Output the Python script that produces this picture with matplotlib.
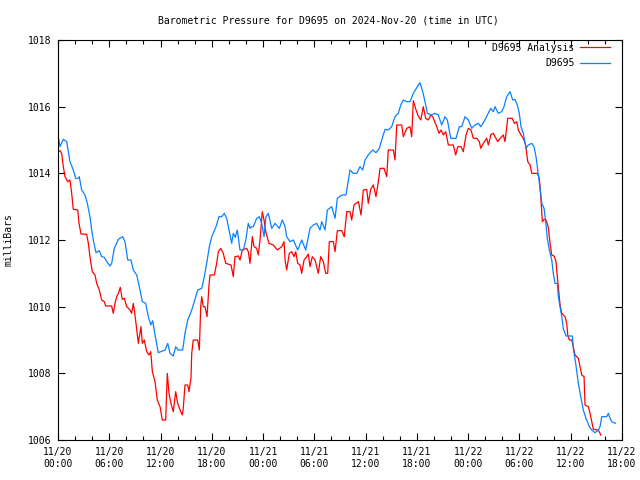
import matplotlib
matplotlib.use("Agg")
import matplotlib.pyplot as plt
from matplotlib.ticker import MultipleLocator

# hours since 2024-11-20 00:00 UTC, pressure in mbar
obs_hours = [
    0.04, 0.23, 0.62, 1.02, 1.21, 1.40, 1.79, 2.07, 2.38, 2.49, 2.77, 3.16, 3.43, 3.74, 3.94, 4.13,
    4.45, 4.83, 5.11, 5.42, 5.70, 6.09, 6.28, 6.59, 7.06, 7.57, 7.84, 8.16, 8.54, 8.81, 9.21, 9.60,
    9.87, 10.26, 10.57, 10.85, 11.08, 11.35, 11.74, 12.52, 12.84, 13.11, 13.49, 13.77, 14.08, 14.59,
    14.86, 15.18, 15.65, 15.95, 16.35, 16.82, 17.12, 17.40, 17.71, 17.99, 18.49, 18.84, 19.16, 19.46,
    19.74, 20.01, 20.33, 20.51, 20.75, 20.98, 21.30, 21.69, 21.97, 22.27, 22.47, 22.67, 22.86, 23.25,
    23.56, 23.84, 24.11, 24.34, 24.61, 25.01, 25.40, 25.90, 26.25, 26.57, 26.76, 27.15, 27.54, 28.05,
    28.52, 28.99, 29.49, 29.88, 30.27, 30.66, 30.86, 31.25, 31.52, 32.03, 32.42, 32.69, 33.20, 33.70,
    34.17, 34.56, 34.96, 35.34, 35.66, 35.93, 36.31, 36.83, 37.21, 37.60, 38.00, 38.27, 38.65, 39.05,
    39.44, 39.82, 40.11, 40.41, 40.81, 41.19, 41.58, 42.05, 42.36, 42.68, 42.95, 43.22, 43.73, 44.12,
    44.50, 44.90, 45.29, 45.56, 45.96, 46.58, 46.96, 47.24, 47.63, 48.02, 48.41, 48.80, 49.19, 49.47,
    49.85, 50.24, 50.64, 50.94, 51.14, 51.53, 51.92, 52.19, 52.51, 52.90, 53.21, 53.48, 53.75, 53.98,
    54.18, 54.45, 54.77, 55.04, 55.44, 55.70, 55.94, 56.21, 56.44, 56.61, 56.88, 57.11, 57.26, 57.50,
    57.78, 57.96, 58.16, 58.43, 58.55, 58.95, 59.13, 59.45, 60.19, 60.30, 60.58, 60.89, 61.17, 61.47,
    61.79, 62.18, 62.46, 62.84, 63.23, 63.43, 63.63, 64.21, 64.40, 64.60, 64.80, 65.24,
]
obs_mbar = [
    1015.10, 1014.80, 1015.02, 1014.95, 1014.65, 1014.35, 1014.10, 1013.85, 1013.85, 1013.90, 1013.50,
    1013.35, 1013.10, 1012.70, 1012.30, 1012.00, 1011.62, 1011.68, 1011.50, 1011.48, 1011.35, 1011.22,
    1011.30, 1011.75, 1012.02, 1012.10, 1011.95, 1011.40, 1011.40, 1011.10, 1010.95, 1010.50, 1010.15,
    1010.10, 1009.70, 1009.45, 1009.58, 1009.15, 1008.62, 1008.70, 1008.90, 1008.60, 1008.52, 1008.80,
    1008.70, 1008.70, 1009.20, 1009.60, 1009.90, 1010.15, 1010.50, 1010.55, 1010.90, 1011.30, 1011.80,
    1012.10, 1012.40, 1012.70, 1012.70, 1012.80, 1012.65, 1012.30, 1011.90, 1012.20, 1012.08, 1012.30,
    1011.70, 1011.70, 1012.00, 1012.50, 1012.35, 1012.40, 1012.40, 1012.65, 1012.70, 1012.50, 1012.10,
    1012.70, 1012.80, 1012.35, 1012.50, 1012.35, 1012.60, 1012.40, 1012.10, 1011.95, 1012.00, 1011.70,
    1012.00, 1011.70, 1012.35, 1012.45, 1012.50, 1012.30, 1012.55, 1012.30, 1012.90, 1013.00, 1012.65,
    1013.25, 1013.35, 1013.35, 1014.10, 1014.00, 1014.00, 1014.20, 1014.10, 1014.40, 1014.55, 1014.70,
    1014.62, 1014.75, 1015.10, 1015.32, 1015.30, 1015.40, 1015.70, 1015.80, 1016.05, 1016.20, 1016.15,
    1016.15, 1016.40, 1016.60, 1016.72, 1016.45, 1016.15, 1015.80, 1015.75, 1015.80, 1015.75, 1015.45,
    1015.70, 1015.60, 1015.05, 1015.05, 1015.40, 1015.40, 1015.70, 1015.60, 1015.35, 1015.45, 1015.50,
    1015.40, 1015.55, 1015.75, 1015.95, 1015.85, 1016.00, 1015.80, 1015.85, 1016.00, 1016.30, 1016.45,
    1016.20, 1016.22, 1016.05, 1015.80, 1015.40, 1015.20, 1014.75, 1014.85, 1014.90, 1014.80, 1014.50,
    1013.95, 1013.50, 1013.10, 1012.95, 1012.45, 1012.05, 1011.70, 1011.40, 1011.00, 1010.70, 1010.70,
    1010.30, 1009.70, 1009.35, 1009.12, 1009.12, 1008.75, 1008.30, 1007.70, 1007.30, 1006.90, 1006.65,
    1006.40, 1006.30, 1006.22, 1006.30, 1006.40, 1006.70, 1006.70, 1006.80, 1006.65, 1006.55, 1006.50,
]

ana_hours = [
    0.04, 0.23, 0.43, 0.62, 0.82, 1.14, 1.40, 1.60, 1.79, 2.31, 2.46, 2.69, 3.36, 3.55, 3.74, 4.01,
    4.33, 4.53, 4.83, 5.11, 5.42, 5.58, 6.28, 6.47, 6.67, 6.87, 7.06, 7.29, 7.52, 7.76, 8.04, 8.43,
    8.62, 8.81, 9.01, 9.21, 9.40, 9.71, 9.87, 10.10, 10.38, 10.65, 10.85, 11.04, 11.35, 11.62, 11.94,
    12.21, 12.60, 12.79, 12.99, 13.22, 13.49, 13.77, 14.01, 14.28, 14.55, 14.66, 14.86, 15.18, 15.33,
    15.56, 15.65, 15.83, 16.35, 16.54, 16.70, 16.82, 17.00, 17.20, 17.44, 17.67, 17.79, 18.29, 18.57,
    18.76, 19.04, 19.34, 19.63, 20.25, 20.51, 20.71, 21.10, 21.30, 21.57, 22.08, 22.27, 22.47, 22.74,
    22.94, 23.25, 23.44, 23.64, 23.91, 24.11, 24.31, 24.69, 25.20, 25.66, 26.18, 26.45, 26.57, 26.76,
    27.07, 27.35, 27.62, 27.82, 28.05, 28.32, 28.52, 28.79, 29.10, 29.29, 29.49, 29.76, 30.08, 30.27,
    30.46, 30.74, 31.05, 31.33, 31.56, 31.75, 32.22, 32.42, 32.69, 33.20, 33.50, 33.79, 34.17, 34.37,
    34.64, 35.15, 35.46, 35.73, 36.13, 36.31, 36.59, 36.90, 37.21, 37.57, 37.68, 38.15, 38.47, 38.65,
    39.24, 39.44, 39.64, 40.22, 40.41, 40.81, 41.19, 41.39, 41.58, 41.90, 42.16, 42.45, 42.75, 43.03,
    43.34, 43.62, 43.85, 44.32, 44.59, 44.82, 45.09, 45.37, 45.68, 46.26, 46.54, 46.78, 47.16, 47.43,
    47.75, 48.02, 48.33, 48.60, 49.00, 49.30, 49.47, 49.77, 50.17, 50.36, 50.67, 50.94, 51.14, 51.46,
    51.73, 52.11, 52.31, 52.63, 53.17, 53.40, 53.68, 53.87, 54.18, 54.45, 54.73, 54.97, 55.24, 55.44,
    56.09, 56.33, 56.52, 56.68, 56.88, 57.11, 57.38, 57.58, 57.78, 58.05, 58.28, 58.43, 58.55, 58.75,
    58.95, 59.33, 59.53, 59.65, 59.84, 60.12, 60.30, 60.50, 60.89, 61.09, 61.29, 61.56, 61.67, 62.06,
    62.26, 62.46, 62.65, 63.23, 63.43, 63.51,
]
ana_mbar = [
    1014.65, 1014.68, 1014.60, 1014.20, 1013.90, 1013.75, 1013.80, 1013.40, 1012.92, 1012.90, 1012.50,
    1012.18, 1012.17, 1011.90, 1011.50, 1011.05, 1010.95, 1010.70, 1010.50, 1010.20, 1010.15, 1010.02,
    1010.02, 1009.80, 1010.10, 1010.30, 1010.40, 1010.58, 1010.22, 1010.25, 1010.00, 1009.90, 1009.80,
    1010.10, 1009.75, 1009.30, 1008.90, 1009.40, 1008.90, 1009.00, 1008.65, 1008.55, 1008.65, 1008.05,
    1007.75, 1007.20, 1007.00, 1006.60, 1006.60, 1008.00, 1007.40, 1007.10, 1006.85, 1007.45, 1007.10,
    1006.90, 1006.75, 1006.95, 1007.65, 1007.65, 1007.45, 1007.85, 1008.60, 1009.00, 1009.00, 1008.70,
    1010.00, 1010.30, 1010.00, 1010.00, 1009.70, 1010.65, 1010.95, 1010.95, 1011.30, 1011.65, 1011.75,
    1011.60, 1011.30, 1011.25, 1010.90, 1011.50, 1011.52, 1011.40, 1011.70, 1011.75, 1011.65, 1011.30,
    1012.10, 1011.80, 1011.75, 1011.55, 1012.00, 1012.85, 1012.60, 1012.25, 1011.90, 1011.85, 1011.70,
    1011.80, 1011.95, 1011.40, 1011.10, 1011.60, 1011.65, 1011.50, 1011.65, 1011.30, 1011.25, 1011.00,
    1011.40, 1011.50, 1011.58, 1011.20, 1011.50, 1011.40, 1011.20, 1011.00, 1011.50, 1011.35, 1011.00,
    1011.00, 1011.95, 1011.95, 1011.65, 1012.28, 1012.28, 1012.10, 1012.85, 1012.85, 1012.60, 1013.05,
    1013.15, 1012.75, 1013.50, 1013.52, 1013.10, 1013.52, 1013.65, 1013.30, 1013.90, 1014.15, 1014.15,
    1013.90, 1014.70, 1014.70, 1014.40, 1015.45, 1015.45, 1015.10, 1015.35, 1015.40, 1015.10, 1016.18,
    1015.90, 1015.72, 1015.60, 1016.00, 1015.65, 1015.60, 1015.75, 1015.70, 1015.40, 1015.20, 1015.30,
    1015.15, 1015.25, 1014.85, 1014.85, 1014.55, 1014.80, 1014.80, 1014.65, 1015.15, 1015.35, 1015.30,
    1015.05, 1015.05, 1014.95, 1014.75, 1014.90, 1015.05, 1014.85, 1015.17, 1015.20, 1015.10, 1014.95,
    1015.05, 1015.15, 1014.95, 1015.65, 1015.65, 1015.50, 1015.55, 1015.30, 1015.15, 1015.05, 1014.85,
    1014.35, 1014.25, 1014.00, 1014.00, 1013.85, 1013.20, 1012.55, 1012.62, 1012.60, 1012.38, 1011.90,
    1011.55, 1011.52, 1011.35, 1010.90, 1010.60, 1010.05, 1009.80, 1009.70, 1009.50, 1009.15, 1009.00,
    1009.00, 1008.80, 1008.55, 1008.45, 1008.20, 1007.95, 1007.90, 1007.05, 1007.00, 1006.80, 1006.55,
    1006.32, 1006.30, 1006.20, 1006.15,
]

tick_hours = [0, 6, 12, 18, 24, 30, 36, 42, 48, 54, 60, 66]
tick_labels = [
    "11/20\n00:00", "11/20\n06:00", "11/20\n12:00", "11/20\n18:00",
    "11/21\n00:00", "11/21\n06:00", "11/21\n12:00", "11/21\n18:00",
    "11/22\n00:00", "11/22\n06:00", "11/22\n12:00", "11/22\n18:00",
]

plt.rcParams['font.family'] = 'DejaVu Sans Mono'
plt.rcParams['font.size'] = 7

fig = plt.figure(figsize=(6.4, 4.8), dpi=100)
ax = fig.add_axes([58 / 640, 40 / 480, 564 / 640, 400 / 480])

ax.plot(ana_hours, ana_mbar, color='#ff0000', linewidth=0.9, label='D9695 Analysis')
ax.plot(obs_hours, obs_mbar, color='#0a80ff', linewidth=0.9, label='D9695')

ax.set_xlim(0, 66)
ax.set_ylim(1006, 1018)
ax.set_xticks(tick_hours)
ax.set_xticklabels(tick_labels, linespacing=1.25)
ax.xaxis.set_minor_locator(MultipleLocator(2))
ax.yaxis.set_major_locator(MultipleLocator(2))
ax.tick_params(which='both', direction='in', top=True, right=True, width=0.8)
ax.tick_params(which='major', length=5, pad=5)
ax.tick_params(which='minor', length=3)
for s in ax.spines.values():
    s.set_linewidth(0.8)

ax.set_ylabel('milliBars', labelpad=10)
fig.text(0.513, 0.958, 'Barometric Pressure for D9695 on 2024-Nov-20 (time in UTC)',
         ha='center', va='center', fontsize=7)

leg = ax.legend(loc='upper right', bbox_to_anchor=(0.978, 0.993), frameon=False,
                markerfirst=False, handlelength=3.0, borderaxespad=0, borderpad=0,
                labelspacing=0.55, handletextpad=0.6)
for t in leg.get_texts():
    t.set_ha('right')

fig.savefig('out.png', dpi=100)
